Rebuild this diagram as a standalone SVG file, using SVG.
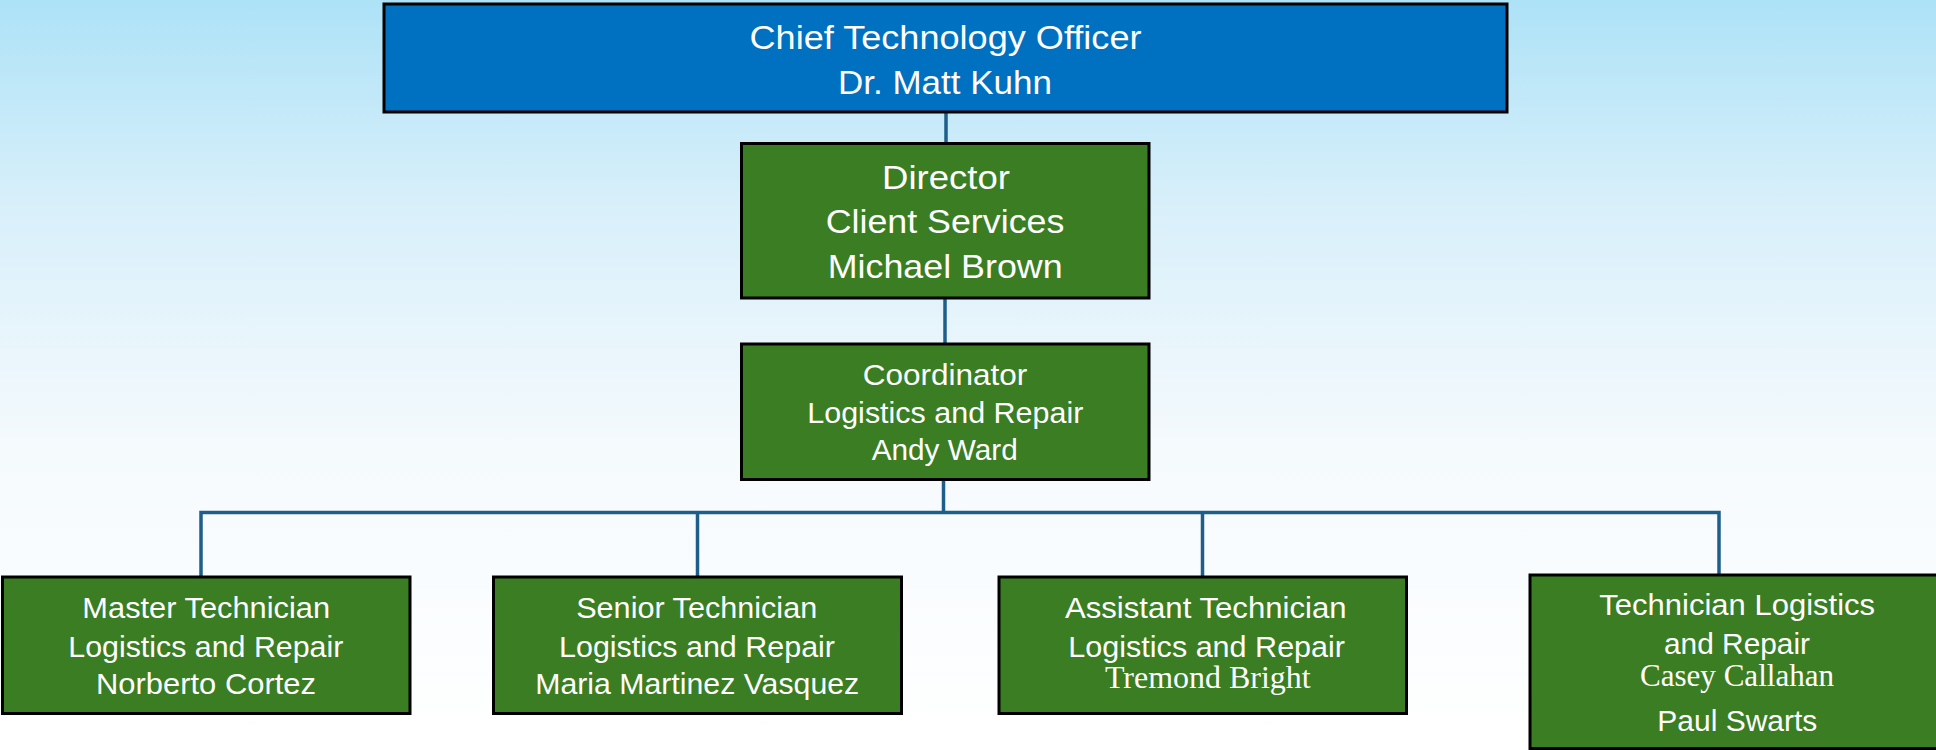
<svg xmlns="http://www.w3.org/2000/svg" width="1936" height="750" viewBox="0 0 1936 750">
<defs>
<linearGradient id="bg" x1="0" y1="0" x2="0" y2="1">
<stop offset="0" stop-color="#ADE2F7"/>
<stop offset="0.27" stop-color="#D8EFFA"/>
<stop offset="0.6" stop-color="#F5FAFD"/>
<stop offset="1" stop-color="#FFFFFF"/>
</linearGradient>
<style>
.blue{fill:#0070C0;stroke:#000;stroke-width:3}
.green{fill:#3B7D23;stroke:#000;stroke-width:3}
.t{font-family:"Liberation Sans",Arial,sans-serif;fill:#fff;text-anchor:middle}
.s{font-family:"Liberation Serif","Times New Roman",serif;fill:#fff;text-anchor:middle}
.c{stroke:#1D5F8A;stroke-width:3.5;fill:none}
</style>
</defs>
<rect x="0" y="0" width="1936" height="750" fill="url(#bg)"/>
<g id="connectors">
<line class="c" x1="946" y1="112" x2="946" y2="143"/>
<line class="c" x1="945" y1="297" x2="945" y2="344"/>
<line class="c" x1="943.5" y1="479" x2="943.5" y2="512.5"/>
<path class="c" d="M201 577 V512.5 H1719 V576"/>
<line class="c" x1="697.5" y1="512.5" x2="697.5" y2="577"/>
<line class="c" x1="1202.5" y1="512.5" x2="1202.5" y2="577"/>
</g>
<g id="cto">
<rect class="blue" x="384" y="4" width="1123" height="108"/>
<text class="t" x="945.5" y="49.3" font-size="34" textLength="392" lengthAdjust="spacingAndGlyphs">Chief Technology Officer</text>
<text class="t" x="945" y="94.3" font-size="34" textLength="214" lengthAdjust="spacingAndGlyphs">Dr. Matt Kuhn</text>
</g>
<g id="director">
<rect class="green" x="741.5" y="143.5" width="407.5" height="154.5"/>
<text class="t" x="946" y="189.3" font-size="34" textLength="128" lengthAdjust="spacingAndGlyphs">Director</text>
<text class="t" x="945" y="233.3" font-size="34" textLength="238.7" lengthAdjust="spacingAndGlyphs">Client Services</text>
<text class="t" x="945.2" y="277.7" font-size="34" textLength="235" lengthAdjust="spacingAndGlyphs">Michael Brown</text>
</g>
<g id="coordinator">
<rect class="green" x="741.5" y="344" width="407.5" height="135.5"/>
<text class="t" x="945" y="385" font-size="29" textLength="164.7" lengthAdjust="spacingAndGlyphs">Coordinator</text>
<text class="t" x="945.3" y="423.3" font-size="29" textLength="276" lengthAdjust="spacingAndGlyphs">Logistics and Repair</text>
<text class="t" x="944.7" y="460" font-size="29" textLength="146" lengthAdjust="spacingAndGlyphs">Andy Ward</text>
</g>
<g id="master">
<rect class="green" x="2.5" y="577" width="407.5" height="136.5"/>
<text class="t" x="206.2" y="618.3" font-size="29.5" textLength="247.7" lengthAdjust="spacingAndGlyphs">Master Technician</text>
<text class="t" x="205.8" y="656.7" font-size="29.5" textLength="275" lengthAdjust="spacingAndGlyphs">Logistics and Repair</text>
<text class="t" x="206" y="694" font-size="29.5" textLength="220" lengthAdjust="spacingAndGlyphs">Norberto Cortez</text>
</g>
<g id="senior">
<rect class="green" x="493.5" y="577" width="408" height="136.5"/>
<text class="t" x="696.7" y="618.3" font-size="29.5" textLength="241" lengthAdjust="spacingAndGlyphs">Senior Technician</text>
<text class="t" x="697" y="656.7" font-size="29.5" textLength="276" lengthAdjust="spacingAndGlyphs">Logistics and Repair</text>
<text class="t" x="697.2" y="694" font-size="29.5" textLength="324" lengthAdjust="spacingAndGlyphs">Maria Martinez Vasquez</text>
</g>
<g id="assistant">
<rect class="green" x="999" y="577" width="407.5" height="136.5"/>
<text class="t" x="1205.8" y="618.3" font-size="29.5" textLength="281.7" lengthAdjust="spacingAndGlyphs">Assistant Technician</text>
<text class="t" x="1206.7" y="656.7" font-size="29.5" textLength="276.7" lengthAdjust="spacingAndGlyphs">Logistics and Repair</text>
<text class="s" x="1207.8" y="688.3" font-size="32" textLength="205.7" lengthAdjust="spacingAndGlyphs">Tremond Bright</text>
</g>
<g id="technician">
<rect class="green" x="1530" y="575" width="415" height="173.5"/>
<text class="t" x="1737.2" y="615" font-size="29.5" textLength="275.7" lengthAdjust="spacingAndGlyphs">Technician Logistics</text>
<text class="t" x="1737" y="654" font-size="29.5" textLength="146" lengthAdjust="spacingAndGlyphs">and Repair</text>
<text class="s" x="1737" y="686" font-size="31" textLength="194" lengthAdjust="spacingAndGlyphs">Casey Callahan</text>
<text class="t" x="1737.3" y="731" font-size="29.5" textLength="160" lengthAdjust="spacingAndGlyphs">Paul Swarts</text>
</g>
</svg>
